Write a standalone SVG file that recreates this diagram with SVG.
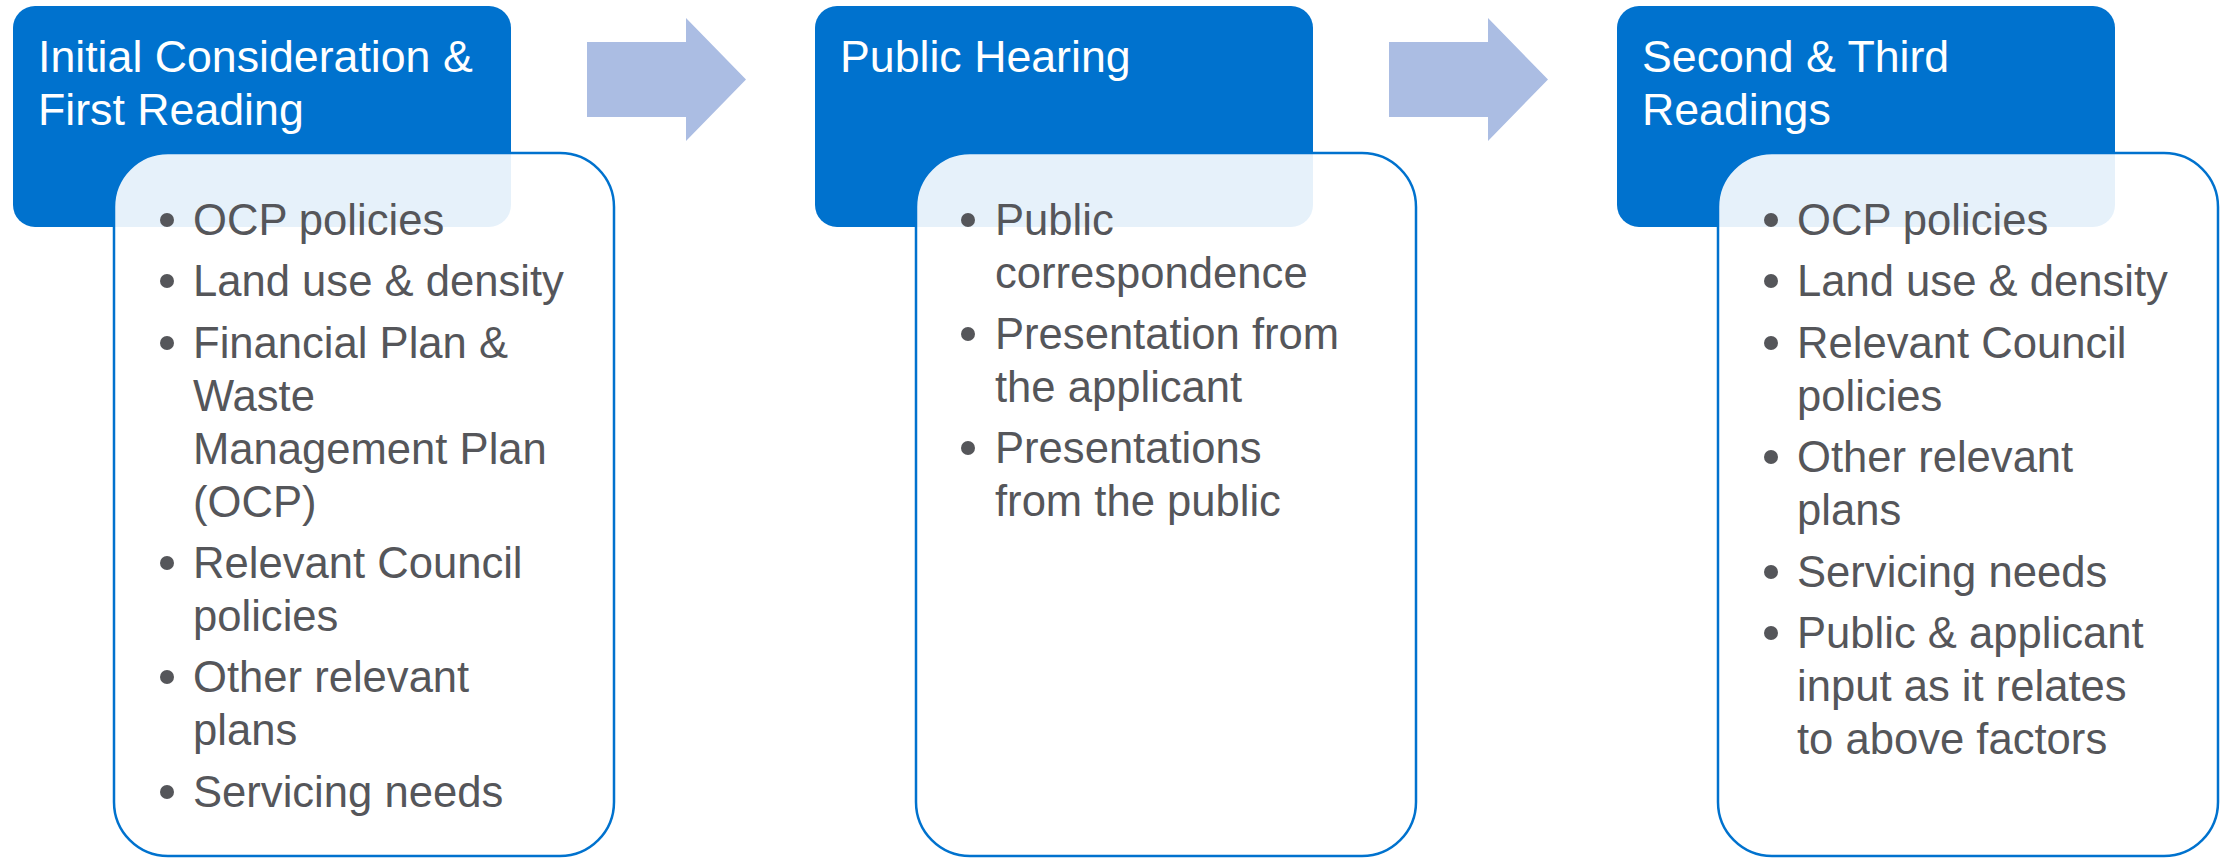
<svg xmlns="http://www.w3.org/2000/svg" width="2221" height="859" viewBox="0 0 2221 859">
<style>
.hdr{fill:#0072CE}
.body{fill:#FFFFFF;fill-opacity:0.9;stroke:#0072CE;stroke-width:2.5}
.arrow{fill:#ABBDE3}
.ht{font-family:"Liberation Sans",Arial,sans-serif;font-size:44.7px;fill:#FFFFFF}
.bt{font-family:"Liberation Sans",Arial,sans-serif;font-size:43.6px;fill:#55565A}
.dot{fill:#55565A}
</style>
<rect width="2221" height="859" fill="#FFFFFF"/>
<g id="connectors">
<polygon class="arrow" points="587,42 686,42 686,18 746,79.5 686,141 686,117 587,117"/>
<polygon class="arrow" points="1389,42 1488,42 1488,18 1548,79.5 1488,141 1488,117 1389,117"/>
</g>
<g id="stage1">
<rect class="hdr" x="13" y="6" width="498" height="221" rx="22"/>
<text class="ht" x="38" y="72">Initial Consideration &amp;</text>
<text class="ht" x="38" y="125">First Reading</text>
<rect class="body" x="114" y="153" width="500" height="703" rx="54"/>
<circle class="dot" cx="167" cy="220" r="7"/>
<text class="bt" x="193" y="235">OCP policies</text>
<circle class="dot" cx="167" cy="281" r="7"/>
<text class="bt" x="193" y="296">Land use &amp; density</text>
<circle class="dot" cx="167" cy="343" r="7"/>
<text class="bt" x="193" y="358">Financial Plan &amp;</text>
<text class="bt" x="193" y="411">Waste</text>
<text class="bt" x="193" y="464">Management Plan</text>
<text class="bt" x="193" y="517">(OCP)</text>
<circle class="dot" cx="167" cy="563" r="7"/>
<text class="bt" x="193" y="578">Relevant Council</text>
<text class="bt" x="193" y="631">policies</text>
<circle class="dot" cx="167" cy="677" r="7"/>
<text class="bt" x="193" y="692">Other relevant</text>
<text class="bt" x="193" y="745">plans</text>
<circle class="dot" cx="167" cy="792" r="7"/>
<text class="bt" x="193" y="807">Servicing needs</text>
</g>
<g id="stage2">
<rect class="hdr" x="815" y="6" width="498" height="221" rx="22"/>
<text class="ht" x="840" y="72">Public Hearing</text>
<rect class="body" x="916" y="153" width="500" height="703" rx="54"/>
<circle class="dot" cx="968" cy="220" r="7"/>
<text class="bt" x="995" y="235">Public</text>
<text class="bt" x="995" y="288">correspondence</text>
<circle class="dot" cx="968" cy="334" r="7"/>
<text class="bt" x="995" y="349">Presentation from</text>
<text class="bt" x="995" y="402">the applicant</text>
<circle class="dot" cx="968" cy="448" r="7"/>
<text class="bt" x="995" y="463">Presentations</text>
<text class="bt" x="995" y="516">from the public</text>
</g>
<g id="stage3">
<rect class="hdr" x="1617" y="6" width="498" height="221" rx="22"/>
<text class="ht" x="1642" y="72">Second &amp; Third</text>
<text class="ht" x="1642" y="125">Readings</text>
<rect class="body" x="1718" y="153" width="500" height="703" rx="54"/>
<circle class="dot" cx="1771" cy="220" r="7"/>
<text class="bt" x="1797" y="235">OCP policies</text>
<circle class="dot" cx="1771" cy="281" r="7"/>
<text class="bt" x="1797" y="296">Land use &amp; density</text>
<circle class="dot" cx="1771" cy="343" r="7"/>
<text class="bt" x="1797" y="358">Relevant Council</text>
<text class="bt" x="1797" y="411">policies</text>
<circle class="dot" cx="1771" cy="457" r="7"/>
<text class="bt" x="1797" y="472">Other relevant</text>
<text class="bt" x="1797" y="525">plans</text>
<circle class="dot" cx="1771" cy="572" r="7"/>
<text class="bt" x="1797" y="587">Servicing needs</text>
<circle class="dot" cx="1771" cy="633" r="7"/>
<text class="bt" x="1797" y="648">Public &amp; applicant</text>
<text class="bt" x="1797" y="701">input as it relates</text>
<text class="bt" x="1797" y="754">to above factors</text>
</g>
</svg>
